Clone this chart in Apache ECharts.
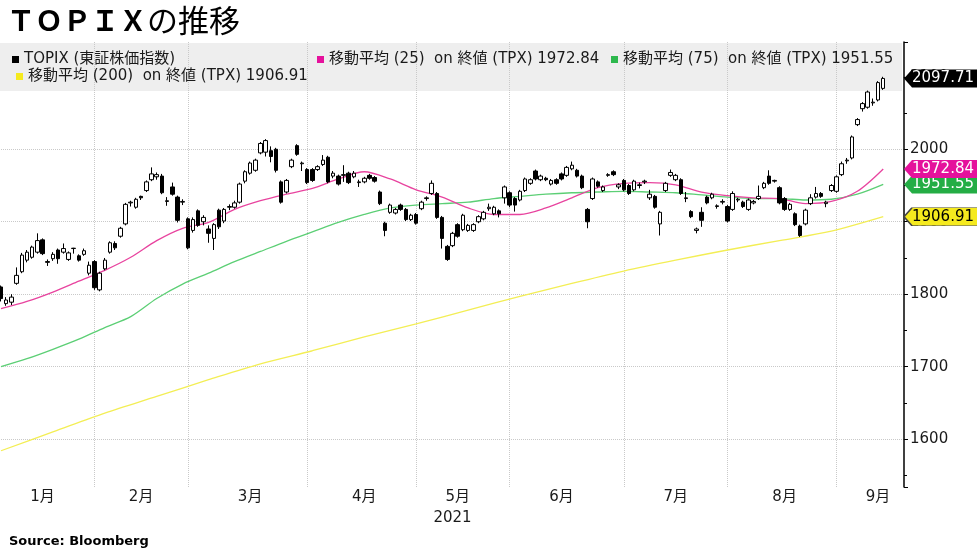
<!DOCTYPE html>
<html><head><meta charset="utf-8">
<script src="https://cdn.jsdelivr.net/npm/echarts@6/dist/echarts.min.js"></script>
<style>html,body{margin:0;padding:0;background:#fff}#c{width:977px;height:549px}</style>
</head><body><div id="c"></div>
<script>
// trading days (2021, MM-DD); last four are empty padding days on the right
const dates = ['01-04','01-05','01-06','01-07','01-08','01-12','01-13','01-14','01-15','01-18','01-19','01-20','01-21','01-22','01-25','01-26','01-27','01-28','01-29',
'02-01','02-02','02-03','02-04','02-05','02-08','02-09','02-10','02-12','02-15','02-16','02-17','02-18','02-19','02-22','02-24','02-25','02-26',
'03-01','03-02','03-03','03-04','03-05','03-08','03-09','03-10','03-11','03-12','03-15','03-16','03-17','03-18','03-19','03-22','03-23','03-24','03-25','03-26','03-29','03-30','03-31',
'04-01','04-02','04-05','04-06','04-07','04-08','04-09','04-12','04-13','04-14','04-15','04-16','04-19','04-20','04-21','04-22','04-23','04-26','04-27','04-28','04-30',
'05-06','05-07','05-10','05-11','05-12','05-13','05-14','05-17','05-18','05-19','05-20','05-21','05-24','05-25','05-26','05-27','05-28','05-31',
'06-01','06-02','06-03','06-04','06-07','06-08','06-09','06-10','06-11','06-14','06-15','06-16','06-17','06-18','06-21','06-22','06-23','06-24','06-25','06-28','06-29','06-30',
'07-01','07-02','07-05','07-06','07-07','07-08','07-09','07-12','07-13','07-14','07-15','07-16','07-19','07-20','07-21','07-26','07-27','07-28','07-29','07-30',
'08-02','08-03','08-04','08-05','08-06','08-10','08-11','08-12','08-13','08-16','08-17','08-18','08-19','08-20','08-23','08-24','08-25','08-26','08-27','08-30','08-31',
'09-01','09-02','09-03','09-06','09-07','09-08','09-09','09-10','09-13','09-14','09-15','09-16','09-17'];

const open = [1810,1787,1789,1815,1831,1847,1851,1858,1875,1845,1849,1861,1858,1848,1863,1853,1855,1829,1845,
1806,1835,1858,1870,1880,1897,1926,1920,1935,1943,1958,1962,1963,1928,1948,1934,1927,1904,
1888,1915,1900,1890,1877,1916,1901,1920,1920,1927,1956,1967,1971,1995,1996,1998,2000,1955,1941,1976,2005,1980,1972,
1972,1972,1979,1989,1963,1963,1964,1967,1962,1954,1955,1964,1961,1941,1898,1913,1912,1923,1917,1903,1910,
1918,1932,1939,1939,1906,1866,1867,1896,1889,1888,1888,1900,1904,1918,1911,1915,1933,1940,
1932,1930,1943,1953,1970,1958,1960,1952,1958,1966,1964,1973,1971,1963,1917,1932,1955,1943,1964,1969,1948,1957,
1950,1944,1950,1955,1933,1935,1897,1943,1964,1958,1958,1932,1914,1888,1913,1934,1933,1921,1927,1921,
1917,1930,1927,1917,1926,1932,1947,1963,1956,1947,1932,1917,1911,1894,1897,1925,1934,1939,1925,1943,1942,
1965,1984,1988,2034,2056,2058,2064,2068,2084];
const close = [1794,1792,1796,1826,1854,1858,1865,1874,1856,1844,1855,1849,1863,1857,1863.5,1847,1860,1840,1809,
1829,1847,1871,1864,1891,1924,1927,1931,1933,1955,1966,1965,1940,1929,1938,1902,1928,1864,
1903,1895,1906,1884,1896,1893,1917,1921,1926,1952,1969,1981,1985,2008,2012,1990,1971,1927,1957,1985,1993,1981,1954,
1957,1976,1985,1955,1967,1952,1965,1954,1967,1955,1960,1960,1956,1925,1888,1923,1917,1917,1903,1909,1898,
1927,1933,1953,1906,1877,1848,1884,1880,1909,1895,1896,1907,1913,1920,1920,1911,1948,1923,
1923,1942,1959,1958,1959,1963,1958,1957,1953,1959,1975,1978,1963,1947,1900,1959,1949,1948,1965,1965,1951,1944,
1939,1956,1951,1956,1938,1920,1913,1953,1968,1964,1939,1933,1907,1890,1902,1926,1938,1922,1928,1901,
1939,1931,1921,1930,1928,1935,1953,1953,1957,1926,1917,1924,1896,1881,1916,1933,1939,1935,1927,1950,1962,
1980,1985,2017,2041,2063,2079,2065,2092,2097.71];
const low = [1790,1784,1785,1813,1829,1844,1849,1856,1854,1839,1846,1842,1856,1846,1856,1845,1853,1826,1806,
1804,1833,1856,1861,1878,1895,1921,1918,1930,1941,1956,1958,1938,1922,1936,1899,1923,1862,
1885,1893,1895,1871,1861,1890,1898,1916,1918,1925,1953,1965,1969,1993,1990,1982,1968,1925,1939,1974,1991,1970,1952,
1955,1970,1977,1953,1960,1950,1955,1952,1960,1948,1953,1958,1954,1923,1880,1911,1910,1915,1901,1901,1896,
1916,1929,1937,1904,1863,1846,1865,1878,1887,1886,1886,1898,1902,1915,1909,1906,1925,1920,
1914,1928,1941,1951,1957,1956,1956,1950,1951,1957,1962,1971,1961,1945,1891,1930,1947,1941,1962,1963,1945,1942,
1937,1942,1946,1952,1930,1918,1881,1941,1962,1956,1937,1927,1905,1884,1893,1924,1931,1918,1924,1899,
1915,1927,1919,1915,1924,1930,1945,1951,1954,1924,1915,1915,1894,1879,1895,1923,1932,1933,1920,1941,1940,
1963,1980,1986,2032,2052,2056,2060,2066,2082];
const high = [1812,1796,1800,1837,1857,1861,1867,1884,1877,1848,1858,1863,1870,1859,1864,1855,1863,1845,1847,
1831,1850,1873,1873,1893,1926,1929,1933,1936,1957,1975,1968,1966,1934,1954,1936,1931,1906,
1906,1917,1909,1895,1898,1918,1919,1924,1929,1954,1971,1983,1987,2010,2014,2004,2002,1957,1959,1987,2007,1983,1974,
1974,1978,1992,1991,1970,1965,1978,1969,1970,1958,1962,1966,1963,1943,1900,1925,1919,1925,1919,1911,1912,
1929,1935,1957,1941,1908,1868,1886,1898,1911,1897,1898,1909,1915,1925,1922,1917,1950,1942,
1934,1944,1961,1960,1972,1965,1962,1959,1960,1968,1977,1983,1973,1965,1919,1961,1957,1950,1967,1971,1953,1959,
1952,1958,1954,1958,1944,1937,1915,1955,1972,1966,1960,1941,1916,1892,1920,1936,1940,1924,1931,1923,
1942,1933,1929,1932,1930,1950,1955,1971,1958,1949,1934,1926,1913,1896,1918,1938,1948,1941,1929,1952,1964,
1983,1988,2019,2043,2065,2081,2070,2094,2100];

const ma25 = [['01-04',1780],['01-12',1790],['01-19',1803],['01-26',1818],['02-02',1833],['02-09',1851],['02-17',1874],['02-25',1891],
['03-04',1899],['03-11',1917],['03-18',1929],['03-25',1938],['04-01',1946],['04-08',1959],['04-15',1969],['04-22',1959],['04-30',1944],
['05-12',1934],['05-19',1919],['05-26',1910],['06-02',1910],['06-09',1919],['06-16',1933],['06-23',1947],['06-30',1953],
['07-07',1954],['07-14',1951],['07-21',1941],['07-30',1936],['08-06',1933],['08-16',1932],['08-23',1925],['08-30',1928],['09-06',1942],['09-13',1972.84]];
const ma75 = [['01-04',1700],['01-12',1711],['01-19',1724],['01-26',1738],['02-02',1754],['02-09',1769],['02-17',1794],['02-25',1814],
['03-04',1829],['03-11',1845],['03-18',1859],['03-25',1873],['04-01',1886],['04-08',1899],['04-15',1910],['04-22',1919],['04-30',1923],
['05-12',1925],['05-19',1927],['05-26',1932],['06-02',1935],['06-09',1938],['06-16',1940],['06-23',1941],['06-30',1942],
['07-07',1941],['07-14',1940],['07-21',1937],['07-30',1934],['08-06',1932],['08-16',1932],['08-23',1930],['08-30',1931],['09-06',1938],['09-13',1951.55]];
const ma200 = [['01-04',1584],['01-19',1610],['02-02',1636],['02-17',1659],['03-04',1682],['03-18',1704],['04-01',1722],['04-15',1741],
['04-30',1759],['05-19',1778],['06-02',1797],['06-16',1815],['06-30',1832],['07-14',1847],['07-30',1861],['08-16',1874],['08-30',1887],['09-13',1906.91]];

const monthLabelDays = ['01-15','02-12','03-16','04-15','05-17','06-14','07-14','08-17','09-10'];
const yearLabelDay = '05-14';
const yearLabel = '2021';
const names = ['TOPIX (東証株価指数)','移動平均 (25)  on 終値 (TPX) ','移動平均 (75)  on 終値 (TPX) ','移動平均 (200)  on 終値 (TPX) '];

const lastClose = close[close.length-1];
const last25 = ma25[ma25.length-1][1], last75 = ma75[ma75.length-1][1], last200 = ma200[ma200.length-1][1];
const padDay = dates[dates.length-1];
const FONT = "'DejaVu Sans','Noto Sans CJK JP',sans-serif";
const TAG = 'path://M0,10L8,0L80,0L80,20L8,20Z';

function tag(value, bg, fg, z, border) {
  return {
    silent: true, z: z, animation: false,
    symbol: TAG, symbolSize: [80, 18], symbolKeepAspect: false, symbolOffset: [40, 0],
    itemStyle: { color: bg, borderColor: border || bg, borderWidth: border ? 1 : 0 },
    label: { show: true, position: 'inside', offset: [-1, 0], color: fg, fontSize: 15, fontFamily: FONT,
             formatter: p => p.value.toFixed(2) },
    data: [{ coord: [padDay, value], value: value }]
  };
}

const candle = open.map((o, i) => [o, close[i], low[i], high[i]]);
const leg = (name, color, left, top) => ({
  left: left, top: top, padding: 0, itemWidth: 7, itemHeight: 7, itemGap: 0, selectedMode: false,
  textStyle: { fontSize: 15, fontFamily: FONT, color: '#1a1a1a' },
  data: [{ name: name, icon: 'rect', itemStyle: { color: color, borderWidth: 0 } }]
});

const chart = echarts.init(document.getElementById('c'), null, { renderer: 'canvas' });
chart.setOption({
  animation: false,
  backgroundColor: '#fff',
  title: [
    { text: '{a|ＴＯＰＩＸ}{b|の推移}', left: 2, top: 0,
      textStyle: { rich: { a: { fontFamily: 'Noto Sans CJK JP', fontWeight: 'bold', fontSize: 28, color: '#000' },
                           b: { fontFamily: 'Noto Sans CJK JP', fontWeight: 'normal', fontSize: 31, color: '#000' } } } },
    { text: 'Source: Bloomberg', left: 4, top: 530,
      textStyle: { fontFamily: FONT, fontWeight: 'bold', fontSize: 13, color: '#000' } }
  ],
  graphic: [{ type: 'rect', z: 1, silent: true, shape: { x: 0, y: 43, width: 902, height: 48 }, style: { fill: '#eeeeee' } }],
  legend: [
    leg(names[0], '#000', 12, 52),
    leg(names[1] + last25.toFixed(2), '#e5119c', 317, 52),
    leg(names[2] + last75.toFixed(2), '#2db84d', 611, 52),
    leg(names[3] + last200.toFixed(2), '#f5ea1e', 16, 69)
  ],
  grid: { left: 1, right: 73, top: 42, bottom: 62 },
  xAxis: [{
    type: 'category', data: dates, boundaryGap: false, z: 2,
    axisLine: { show: false }, axisTick: { show: false },
    axisLabel: { margin: 3, fontSize: 15, fontFamily: FONT, color: '#1a1a1a',
      interval: (i, v) => monthLabelDays.includes(v),
      formatter: v => parseInt(v.slice(0, 2), 10) + '月' },
    splitLine: { show: true, lineStyle: { color: '#c9c9c9', type: 'dotted', width: 1 },
      interval: (i, v) => i < close.length - 1 && dates[i + 1].slice(0, 2) !== v.slice(0, 2) }
  }, {
    type: 'category', data: dates, boundaryGap: false, position: 'bottom', gridIndex: 0,
    axisLine: { show: false }, axisTick: { show: false }, splitLine: { show: false },
    axisLabel: { margin: 24, fontSize: 15, fontFamily: FONT, color: '#1a1a1a',
      interval: (i, v) => v === yearLabelDay, formatter: () => yearLabel }
  }],
  yAxis: {
    type: 'value', position: 'right', min: 1534, max: 2148, scale: true, z: 0,
    axisLine: { show: true, lineStyle: { color: '#000', width: 1.5 } },
    axisTick: { show: true, length: 4, lineStyle: { color: '#000' } },
    minorTick: { show: true, splitNumber: 2, length: 3, lineStyle: { color: '#000' } },
    axisLabel: { margin: 6, fontSize: 15, fontFamily: FONT, color: '#1a1a1a', showMinLabel: false, showMaxLabel: false,
      formatter: v => String(v) },
    splitLine: { show: true, showMinLine: false, showMaxLine: false, lineStyle: { color: '#c9c9c9', type: 'dotted', width: 1 } }
  },
  series: [
    { name: names[0], type: 'candlestick', data: candle, barWidth: 4, clip: false, z: 6,
      itemStyle: { color: '#fff', color0: '#000', borderColor: '#000', borderColor0: '#000', borderWidth: 1 },
      markPoint: tag(lastClose, '#000', '#fff', 9) },
    { name: names[3] + last200.toFixed(2), type: 'line', data: ma200, showSymbol: false, smooth: 0.3, z: 3,
      lineStyle: { color: '#f3ee55', width: 1.3 }, itemStyle: { color: '#f5ea1e' },
      markPoint: tag(last200, '#f5ea1e', '#000', 6, '#444') },
    { name: names[2] + last75.toFixed(2), type: 'line', data: ma75, showSymbol: false, smooth: 0.3, z: 4,
      lineStyle: { color: '#5ccf75', width: 1.3 }, itemStyle: { color: '#2db84d' },
      markPoint: tag(last75, '#24ad45', '#fff', 7) },
    { name: names[1] + last25.toFixed(2), type: 'line', data: ma25, showSymbol: false, smooth: 0.3, z: 5,
      lineStyle: { color: '#e8449f', width: 1.3 }, itemStyle: { color: '#e5119c' },
      markPoint: tag(last25, '#e5119c', '#fff', 8) }
  ]
});
</script></body></html>
